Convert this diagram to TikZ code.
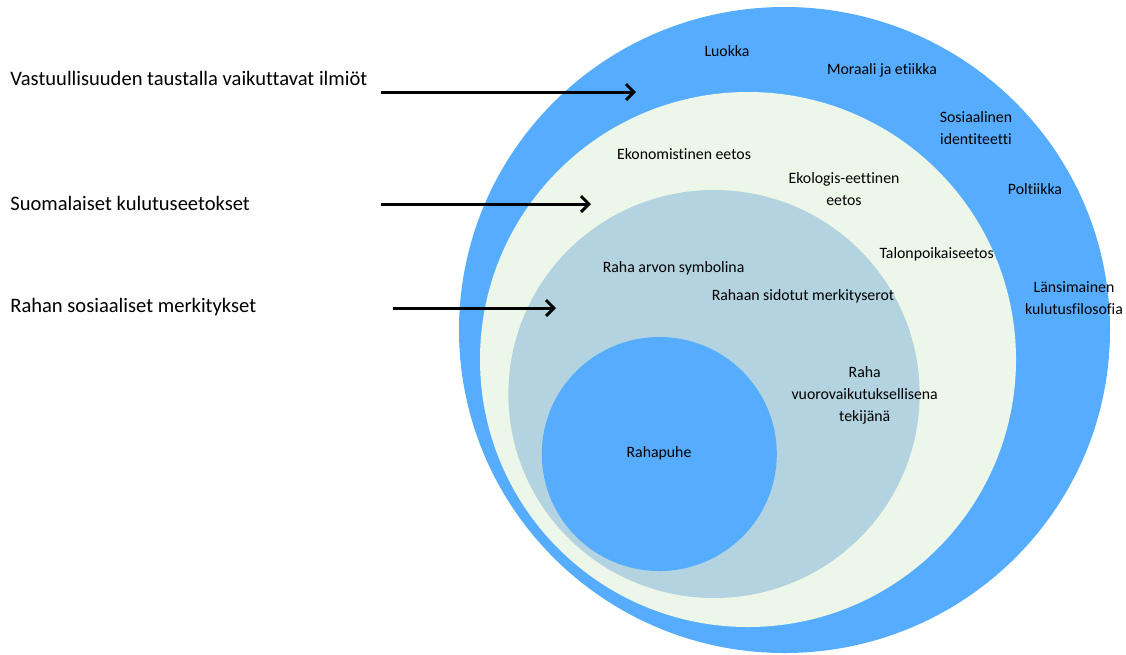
\documentclass[tikz,border=0pt]{standalone}
\usepackage{fontspec}
\setmainfont[Ligatures=NoCommon]{Carlito}
\usetikzlibrary{arrows.meta}
\definecolor{ringblue}{RGB}{86,173,255}
\definecolor{ringgreen}{RGB}{236,246,233}
\definecolor{ringgrey}{RGB}{178,211,223}
\tikzset{
  lab/.style={font=\fontsize{9}{12.5}\selectfont, align=center, inner sep=0pt},
  side/.style={font=\fontsize{11.7}{14}\selectfont, anchor=west, inner sep=0pt},
  pointer/.style={line width=1.7pt, -{Straight Barb[length=4.5pt,width=9pt]}}
}
\begin{document}
\begin{tikzpicture}[x=0.02cm,y=-0.02cm]
	\useasboundingbox (0,0) rectangle (1126,654);
	\fill[ringblue] (784.5,330) ellipse [x radius=325.5, y radius=323];
	\fill[ringgreen] (748,359.5) ellipse [x radius=268, y radius=267.5];
	\fill[ringgrey] (714,394) ellipse [x radius=205.6, y radius=204];
	\fill[ringblue] (659.3,454) ellipse [x radius=117.5, y radius=117];
	\node[side] (ilmiot) at (10,78) {Vastuullisuuden taustalla vaikuttavat ilmiöt};
	\node[side] (eetokset) at (10,203) {Suomalaiset kulutuseetokset};
	\node[side] (merkitykset) at (10,307) {Rahan sosiaaliset merkitykset};
	\coordinate (s1) at (381,92);
	\coordinate (e1) at (636,92);
	\coordinate (s2) at (381,204);
	\coordinate (e2) at (591,204);
	\coordinate (s3) at (393,308);
	\coordinate (e3) at (556,308);
	\draw[pointer] (s1) -- (e1);
	\draw[pointer] (s2) -- (e2);
	\draw[pointer] (s3) -- (e3);
	\node[lab] (luokka) at (727,51) {Luokka};
	\node[lab] (moraali) at (882,70) {Moraali ja etiikka};
	\node[lab] (identiteetti) at (976,128) {Sosiaalinen\\identiteetti};
	\node[lab] (poltiikka) at (1035,189) {Poltiikka};
	\node[lab] (filosofia) at (1074,298.5) {Länsimainen\\kulutusfilosofia};
	\node[lab] (ekonom) at (684,154) {Ekonomistinen eetos};
	\node[lab] (ekolog) at (844,189) {Ekologis-eettinen\\eetos};
	\node[lab] (talonpoika) at (936.6,254) {Talonpoikaiseetos};
	\node[lab] (symboli) at (673.6,268) {Raha arvon symbolina};
	\node[lab] (merkityserot) at (803,296) {Rahaan sidotut merkityserot};
	\node[lab] (tekija) at (864.7,395) {Raha\\vuorovaikutuksellisena\\tekijänä};
	\node[lab] (rahapuhe) at (659,453) {Rahapuhe};
\end{tikzpicture}
\end{document}
